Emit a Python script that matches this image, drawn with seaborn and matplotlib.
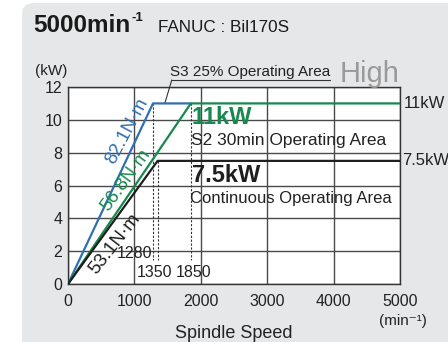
import matplotlib
matplotlib.use('Agg')
import matplotlib.pyplot as plt
import seaborn as sns
import pandas as pd
from matplotlib.patches import FancyBboxPatch

# Output curves (spindle speed in min^-1, output in kW)
s3_speed = [0, 1280, 1850]
s3_power = [0, 11, 11]
s2_speed = [0, 1850, 5000]
s2_power = [0, 11, 11]
cont_speed = [0, 1350, 5000]
cont_power = [0, 7.5, 7.5]

corner_speeds = [1280, 1350, 1850]
corner_powers = [11, 7.5, 11]

x_ticks = [0, 1000, 2000, 3000, 4000, 5000]
y_ticks = [0, 2, 4, 6, 8, 10, 12]

blue = '#2f6fb2'
green = '#16894e'
black = '#1e1e1e'
txt = '#222222'

sns.set_style('white')
plt.rcParams['font.family'] = ['Liberation Sans', 'DejaVu Sans']

fig = plt.figure(figsize=(4.48, 3.42), dpi=100)

# gray rounded panel behind everything
panel = FancyBboxPatch((22 / 448, -0.1), 1.2, 1.1 - 3 / 342,
                       boxstyle='round,pad=0,rounding_size=0.03',
                       transform=fig.transFigure, facecolor='#e6e7e8',
                       edgecolor='none', zorder=-10)
fig.patches.append(panel)

ax = fig.add_axes([68 / 448, 58 / 342, 332 / 448, 197 / 342])
ax.set_facecolor('white')

df_s3 = pd.DataFrame({'speed': s3_speed, 'power': s3_power})
df_s2 = pd.DataFrame({'speed': s2_speed, 'power': s2_power})
df_cont = pd.DataFrame({'speed': cont_speed, 'power': cont_power})

sns.lineplot(data=df_s3, x='speed', y='power', ax=ax, color=blue, lw=1.6,
             sort=False, estimator=None, zorder=3)
sns.lineplot(data=df_s2, x='speed', y='power', ax=ax, color=green, lw=1.6,
             sort=False, estimator=None, zorder=4)
sns.lineplot(data=df_cont, x='speed', y='power', ax=ax, color=black, lw=1.6,
             sort=False, estimator=None, zorder=5)

# dashed drop lines at the corner speeds
for sp, pw in zip(corner_speeds, corner_powers):
    ax.plot([sp, sp], [pw, 1.45], ls=(0, (2, 1.5)), color='#333333', lw=0.8, zorder=2)

ax.set_xlim(0, 5000)
ax.set_ylim(0, 12)
ax.set_xticks(x_ticks)
ax.set_yticks(y_ticks)
ax.tick_params(length=0, labelsize=11.5, colors=txt)
ax.tick_params(axis='x', pad=7)
ax.tick_params(axis='y', pad=4)
ax.grid(True, color='#4a4a4a', lw=1)
for s in ax.spines.values():
    s.set_color('#333333')
    s.set_linewidth(1)
ax.set_xlabel('Spindle Speed', fontsize=13, labelpad=12, color=txt)
ax.set_ylabel('')

# slope labels (torque)
ax.text(890, 9.3, '82.1N·m', color=blue, fontsize=13.5, rotation=62,
        ha='center', va='center')
ax.text(875, 6.35, '56.8N·m', color=green, fontsize=13.5, rotation=54,
        ha='center', va='center')
ax.text(700, 2.45, '53.1N·m', color=black, fontsize=13.5, rotation=52,
        ha='center', va='center')

# corner speed labels
ax.text(1265, 1.86, '1280', fontsize=11.5, ha='right', va='center', color=txt)
ax.text(1040, 0.72, '1350', fontsize=11.5, ha='left', va='center', color=txt)
ax.text(1890, 0.72, '1850', fontsize=11.5, ha='center', va='center', color=txt)

# area labels
ax.text(1860, 10.13, '11kW', color=green, fontsize=17, fontweight='bold',
        ha='left', va='center')
ax.text(1855, 8.72, 'S2 30min Operating Area', fontsize=12.5, ha='left',
        va='center', color=txt)
ax.text(1860, 6.58, '7.5kW', color=black, fontsize=17, fontweight='bold',
        ha='left', va='center')
ax.text(1840, 5.2, 'Continuous Operating Area', fontsize=12, ha='left',
        va='center', color=txt)

# right side output labels
ax.text(5060, 11, '11kW', fontsize=12, ha='left', va='center', clip_on=False, color=txt)
ax.text(5030, 7.5, '7.5kW', fontsize=12, ha='left', va='center', clip_on=False, color=txt)

# S3 label with underline and leader
ax.text(1540, 12.5, 'S3 25% Operating Area', fontsize=11, ha='left',
        va='bottom', clip_on=False, color=txt)
ax.plot([1563, 3950], [12.43, 12.43], color='#333333', lw=0.8, clip_on=False)
ax.plot([1458, 1563], [11, 12.43], color='#333333', lw=0.8, clip_on=False)
ax.text(4090, 12.3, 'High', fontsize=21, color='#9a9a9a', ha='left',
        va='baseline', clip_on=False)

fig.text(35 / 448, 1 - 71 / 342, '(kW)', fontsize=11, va='center', color=txt)
fig.text(379 / 448, 1 - 321 / 342, '(min⁻¹)', fontsize=11, va='center', color=txt)

# title with a small raised "-1" right after it
title = fig.text(33 / 448, 1 - 25 / 342, '5000min', fontsize=17.5,
                 fontweight='bold', va='center', color='#1a1a1a')
fig.canvas.draw()
bb = title.get_window_extent()
fig.text(bb.x1 / 448 + 1 / 448, 1 - 18 / 342, '-1', fontsize=9.5,
         fontweight='bold', va='center', color='#1a1a1a')
fig.text(158 / 448, 1 - 27 / 342, 'FANUC : Bil170S', fontsize=12.3,
         va='center', color='#1a1a1a')

fig.savefig('out.png', dpi=100)
